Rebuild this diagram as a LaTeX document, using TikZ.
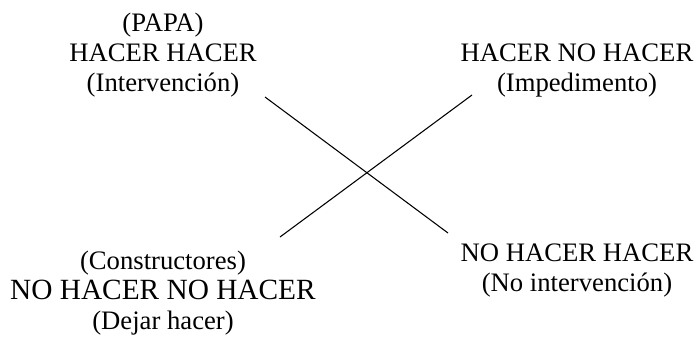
\documentclass[tikz,border=0pt]{standalone}
\usepackage{fontspec}
\setmainfont{Liberation Serif}
\tikzset{
  caso/.style={align=center, inner sep=0pt,
    font=\fontsize{20}{22.5}\selectfont},
  diagonal/.style={line width=0.8pt}
}
\begin{document}
\begin{tikzpicture}[x=0.75pt,y=-0.75pt]
  \useasboundingbox (0,0) rectangle (699,336);
  \draw
    (163,55) node[caso] (hh){(PAPA)\\HACER HACER\\(Intervención)}
    (577,71) node[caso] (hn){HACER NO HACER\\(Impedimento)}
    (163,293) node[caso] (nn){(Constructores)\\{\fontsize{22}{22.5}\selectfont NO HACER NO HACER}\\(Dejar hacer)}
    (577,271) node[caso] (nh){NO HACER HACER\\(No intervención)};
  \coordinate (hh-end) at (265,97);
  \coordinate (nh-end) at (448,233);
  \coordinate (nn-end) at (280,237);
  \coordinate (hn-end) at (472,95);
  \begin{scope}[diagonal]
    \draw (hh-end) to (nh-end);
    \draw (nn-end) to (hn-end);
  \end{scope}
\end{tikzpicture}
\end{document}
